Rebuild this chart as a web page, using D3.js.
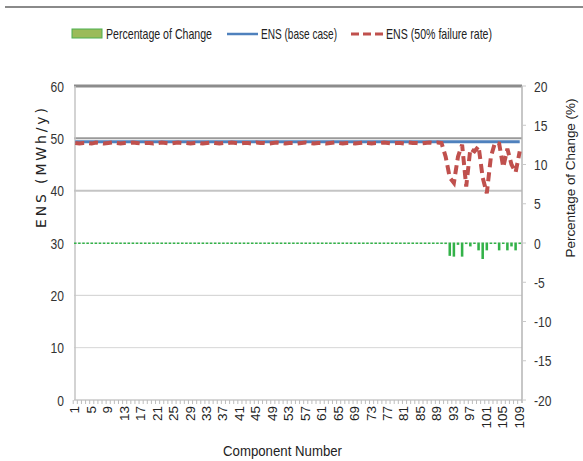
<!DOCTYPE html>
<html>
<head>
<meta charset="utf-8">
<script src="https://cdn.jsdelivr.net/npm/d3@7"></script>
<style>
  body { margin: 0; background: #fff; }
  svg { display: block; }
  .narrow { font-family: 'Liberation Sans Narrow', 'Arial Narrow', 'Liberation Sans', sans-serif; }
</style>
</head>
<body>
<div id="chart"></div>
<script>
// component numbers 1..109
const components = [
  1,2,3,4,5,6,7,8,9,10,11,12,13,14,15,16,17,18,19,20,21,22,23,24,25,26,27,28,29,30,
  31,32,33,34,35,36,37,38,39,40,41,42,43,44,45,46,47,48,49,50,51,52,53,54,55,56,57,58,59,60,
  61,62,63,64,65,66,67,68,69,70,71,72,73,74,75,76,77,78,79,80,81,82,83,84,85,86,87,88,89,90,
  91,92,93,94,95,96,97,98,99,100,101,102,103,104,105,106,107,108,109
]

// ENS base case (MWh/y)
const ensBase = [
  49.35,49.35,49.35,49.35,49.35,49.35,49.35,49.35,49.35,49.35,49.35,49.35,49.35,49.35,49.35,49.35,49.35,49.35,49.35,49.35,
  49.35,49.35,49.35,49.35,49.35,49.35,49.35,49.35,49.35,49.35,49.35,49.35,49.35,49.35,49.35,49.35,49.35,49.35,49.35,49.35,
  49.35,49.35,49.35,49.35,49.35,49.35,49.35,49.35,49.35,49.35,49.35,49.35,49.35,49.35,49.35,49.35,49.35,49.35,49.35,49.35,
  49.35,49.35,49.35,49.35,49.35,49.35,49.35,49.35,49.35,49.35,49.35,49.35,49.35,49.35,49.35,49.35,49.35,49.35,49.35,49.35,
  49.35,49.35,49.35,49.35,49.35,49.35,49.35,49.35,49.35,49.35,49.35,49.35,49.35,49.35,49.35,49.35,49.35,49.35,49.35,49.35,
  49.35,49.35,49.35,49.35,49.35,49.35,49.35,49.35,49.35
]

// ENS with 50% failure rate (MWh/y)
const ensFail = [
  49.1,49.0,49.1,49.1,49.0,49.2,49.1,49.0,49.1,49.2,49.1,49.0,49.1,49.1,49.2,49.1,49.0,49.1,49.1,49.0,
  49.1,49.2,49.1,49.0,49.1,49.2,49.1,49.1,49.0,49.1,49.1,49.0,49.1,49.2,49.1,49.0,49.1,49.1,49.2,49.1,
  49.0,49.1,49.1,49.0,49.2,49.1,49.1,49.0,49.1,49.2,49.1,49.0,49.1,49.1,49.0,49.1,49.2,49.1,49.0,49.1,
  49.1,49.0,49.1,49.2,49.1,49.0,49.1,49.1,49.0,49.1,49.2,49.1,49.0,49.1,49.1,49.2,49.1,49.0,49.1,49.1,
  49.0,49.2,49.1,49.1,49.0,49.1,49.2,49.1,49.2,49.1,
  46.5,42.5,41.5,46.5,48.8,40.8,48.0,47.5,48.5,42.5,39.5,46.5,49.2,49.0,44.5,48.0,45.0,43.5,47.5
]

// percentage of change (%)
const pctChange = [
  0,0,0,0,0,0,0,0,0,0,0,0,0,0,0,0,0,0,0,0,0,0,0,0,0,0,0,0,0,0,
  0,0,0,0,0,0,0,0,0,0,0,0,0,0,0,0,0,0,0,0,0,0,0,0,0,0,0,0,0,0,
  0,0,0,0,0,0,0,0,0,0,0,0,0,0,0,0,0,0,0,0,0,0,0,0,0,0,0,0,0,0,
  -0.2,-1.7,-1.8,-0.3,-1.8,-0.2,-0.5,-0.1,-1.0,-2.1,-1.0,-0.1,-0.1,-1.0,-0.1,-1.0,-0.5,-1.0,-0.2
]

const leftTicks = [0, 10, 20, 30, 40, 50, 60]
const rightTicks = [-20, -15, -10, -5, 0, 5, 10, 15, 20]

const W = 583, H = 461
const plot = { left: 74, right: 521, top: 86, bottom: 400 }

const svg = d3.select('#chart').append('svg')
  .attr('width', W)
  .attr('height', H)

// thin rule on top of the picture
svg.append('line')
  .attr('x1', 5).attr('x2', W).attr('y1', 7).attr('y2', 7)
  .attr('stroke', '#8a8a8a').attr('stroke-width', 2)

const x = d3.scaleBand().domain(components).range([plot.left, plot.right]).paddingInner(0.38)
const yL = d3.scaleLinear().domain([0, 60]).range([plot.bottom, plot.top])
const yR = d3.scaleLinear().domain([-20, 20]).range([plot.bottom, plot.top])
const cx = (d) => x(d) + x.bandwidth() / 2

// gridlines, Excel style: top ones darker
const gridStyle = {
  60: ['#8c8c8c', 3], 50: ['#9a9a9a', 2], 40: ['#c4c4c4', 2],
  30: ['#ececec', 1], 20: ['#cfcfcf', 1], 10: ['#d6d6d6', 1], 0: ['#c8c8c8', 1.5]
}
svg.append('g').selectAll('line')
  .data(leftTicks)
  .join('line')
  .attr('x1', plot.left).attr('x2', plot.right + 1)
  .attr('y1', (d) => yL(d)).attr('y2', (d) => yL(d))
  .attr('stroke', (d) => gridStyle[d][0])
  .attr('stroke-width', (d) => gridStyle[d][1])

// left and right axis lines
svg.append('line')
  .attr('x1', plot.left + 1).attr('x2', plot.left + 1)
  .attr('y1', plot.top).attr('y2', plot.bottom)
  .attr('stroke', '#c4c4c4').attr('stroke-width', 1.5)
svg.append('line')
  .attr('x1', plot.right + 1).attr('x2', plot.right + 1)
  .attr('y1', plot.top).attr('y2', plot.bottom + 3)
  .attr('stroke', '#b4b4b4').attr('stroke-width', 1.5)

// percentage of change bars (right axis)
svg.append('g').selectAll('rect')
  .data(components)
  .join('rect')
  .attr('x', (d) => x(d))
  .attr('width', x.bandwidth())
  .attr('y', (d, i) => Math.min(yR(0), yR(pctChange[i])) - 0.5)
  .attr('height', (d, i) => Math.max(Math.abs(yR(pctChange[i]) - yR(0)), 1.5))
  .attr('fill', '#33b249')

// ENS lines
const line = (vals) => d3.line()
  .x((d) => cx(d))
  .y((d, i) => yL(vals[i]))(components)

svg.append('path')
  .attr('d', line(ensBase))
  .attr('fill', 'none')
  .attr('stroke', '#4f81bd')
  .attr('stroke-width', 3)

svg.append('path')
  .attr('d', line(ensFail))
  .attr('fill', 'none')
  .attr('stroke', '#c0504d')
  .attr('stroke-width', 4)
  .attr('stroke-dasharray', '9,5')

// left axis labels (squeezed to look like the narrow Excel font)
svg.append('g').selectAll('text')
  .data(leftTicks)
  .join('text')
  .attr('transform', (d) => `translate(64,${yL(d)}) scale(0.78,1)`)
  .attr('dy', '0.36em')
  .attr('text-anchor', 'end')
  .attr('font-family', 'Liberation Sans, Arial, sans-serif')
  .attr('font-size', 15.5)
  .attr('fill', '#333')
  .text((d) => d)

// right axis ticks + labels
svg.append('g').selectAll('line')
  .data(rightTicks)
  .join('line')
  .attr('x1', plot.right + 1).attr('x2', plot.right + 5)
  .attr('y1', (d) => yR(d)).attr('y2', (d) => yR(d))
  .attr('stroke', '#c8c8c8')
svg.append('g').selectAll('text')
  .data(rightTicks)
  .join('text')
  .attr('transform', (d) => `translate(534,${yR(d)}) scale(0.78,1)`)
  .attr('dy', '0.36em')
  .attr('font-family', 'Liberation Sans, Arial, sans-serif')
  .attr('font-size', 15.5)
  .attr('fill', '#333')
  .text((d) => d)

// x axis minor ticks at every category
svg.append('g').selectAll('line')
  .data(components)
  .join('line')
  .attr('x1', (d) => x(d) - x.step() * 0.19).attr('x2', (d) => x(d) - x.step() * 0.19)
  .attr('y1', plot.bottom).attr('y2', plot.bottom + 4)
  .attr('stroke', '#bdbdbd')

// x labels every 4th component, rotated
svg.append('g').selectAll('text')
  .data(components.filter((d) => (d - 1) % 4 === 0))
  .join('text')
  .attr('transform', (d) => `translate(${cx(d) + 4},406) rotate(-90)`)
  .attr('text-anchor', 'end')
  .attr('font-family', 'Liberation Sans, Arial, sans-serif')
  .attr('font-size', 13.5)
  .attr('fill', '#222')
  .text((d) => d)

// axis titles
svg.append('text')
  .attr('transform', 'translate(46,168) rotate(-90)')
  .attr('text-anchor', 'middle')
  .attr('font-family', 'DejaVu Sans, sans-serif')
  .attr('font-size', 14)
  .attr('fill', '#222')
  .attr('textLength', 120)
  .attr('lengthAdjust', 'spacing')
  .text('ENS (MWh/y)')

svg.append('text')
  .attr('transform', 'translate(575,178) rotate(-90)')
  .attr('text-anchor', 'middle')
  .attr('font-family', 'Liberation Sans, Arial, sans-serif')
  .attr('font-size', 13.5)
  .attr('fill', '#222')
  .attr('textLength', 159)
  .attr('lengthAdjust', 'spacing')
  .text('Percentage of Change (%)')

svg.append('text')
  .attr('class', 'narrow')
  .attr('x', 223).attr('y', 456)
  .attr('font-size', 15)
  .attr('fill', '#222')
  .attr('textLength', 119)
  .attr('lengthAdjust', 'spacingAndGlyphs')
  .text('Component Number')

// legend
const legend = svg.append('g').attr('class', 'narrow')
legend.append('rect')
  .attr('x', 72).attr('y', 29).attr('width', 30).attr('height', 9)
  .attr('fill', '#9bbb59').attr('stroke', '#4caf50').attr('stroke-width', 1)
legend.append('line')
  .attr('x1', 227).attr('x2', 258).attr('y1', 34).attr('y2', 34)
  .attr('stroke', '#4f81bd').attr('stroke-width', 2.5)
legend.append('line')
  .attr('x1', 351).attr('x2', 383).attr('y1', 34).attr('y2', 34)
  .attr('stroke', '#c0504d').attr('stroke-width', 3).attr('stroke-dasharray', '8,4')

const legendItems = [
  { label: 'Percentage of Change', x: 106, w: 106 },
  { label: 'ENS (base case)', x: 261, w: 76 },
  { label: 'ENS (50% failure rate)', x: 386, w: 106 }
]
legend.selectAll('text')
  .data(legendItems)
  .join('text')
  .attr('x', (d) => d.x).attr('y', 39)
  .attr('font-size', 14.5)
  .attr('fill', '#222')
  .attr('textLength', (d) => d.w)
  .attr('lengthAdjust', 'spacingAndGlyphs')
  .text((d) => d.label)
</script>
</body>
</html>
